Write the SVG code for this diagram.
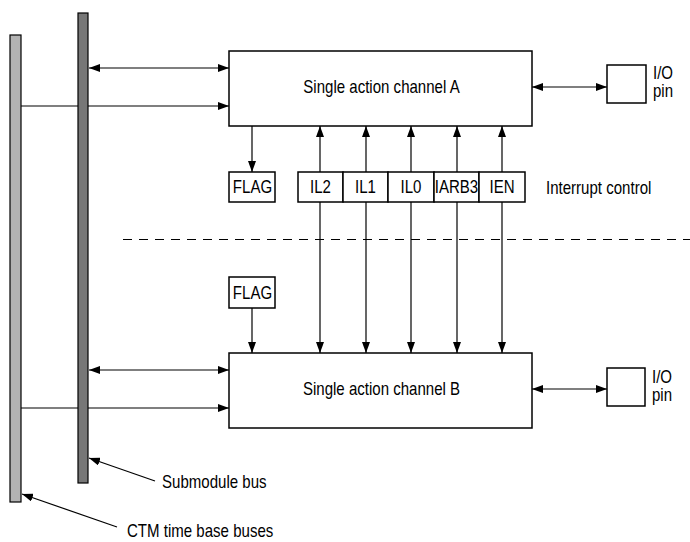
<svg xmlns="http://www.w3.org/2000/svg" width="690" height="542" viewBox="0 0 690 542">
<style>
.box{fill:#fff;stroke:#000;stroke-width:1.5}
.ln{stroke:#000;stroke-width:1.2;fill:none}
.t{font-family:"Liberation Sans","Arial",sans-serif;font-size:17.5px;fill:#000}
.m{text-anchor:middle}
</style>
<defs>
<marker id="ah" viewBox="0 0 11 8" refX="11" refY="4" markerWidth="11" markerHeight="8" markerUnits="userSpaceOnUse" orient="auto-start-reverse">
<path d="M0,0 L11,4 L0,8 Z" fill="#000"/>
</marker>
</defs>
<rect width="690" height="542" fill="#fff"/>
<g id="connectors">
<line class="ln" x1="21" y1="106" x2="229" y2="106" marker-end="url(#ah)"/>
<line class="ln" x1="21" y1="408" x2="229" y2="408" marker-end="url(#ah)"/>
<line class="ln" x1="89" y1="68" x2="229" y2="68" marker-start="url(#ah)" marker-end="url(#ah)"/>
<line class="ln" x1="89" y1="370" x2="229" y2="370" marker-start="url(#ah)" marker-end="url(#ah)"/>
<line class="ln" x1="532" y1="87" x2="607" y2="87" marker-start="url(#ah)" marker-end="url(#ah)"/>
<line class="ln" x1="532" y1="389" x2="607" y2="389" marker-start="url(#ah)" marker-end="url(#ah)"/>
<line class="ln" x1="252" y1="126" x2="252" y2="172" marker-end="url(#ah)"/>
<line class="ln" x1="252" y1="308" x2="252" y2="353" marker-end="url(#ah)"/>
<line class="ln" x1="320" y1="126" x2="320" y2="353" marker-start="url(#ah)" marker-end="url(#ah)"/>
<line class="ln" x1="366" y1="126" x2="366" y2="353" marker-start="url(#ah)" marker-end="url(#ah)"/>
<line class="ln" x1="411" y1="126" x2="411" y2="353" marker-start="url(#ah)" marker-end="url(#ah)"/>
<line class="ln" x1="457" y1="126" x2="457" y2="353" marker-start="url(#ah)" marker-end="url(#ah)"/>
<line class="ln" x1="502" y1="126" x2="502" y2="353" marker-start="url(#ah)" marker-end="url(#ah)"/>
<line class="ln" x1="155" y1="481" x2="89" y2="458" marker-end="url(#ah)"/>
<line class="ln" x1="117" y1="527" x2="22" y2="494" marker-end="url(#ah)"/>
<line x1="123" y1="239.5" x2="690" y2="239.5" stroke="#000" stroke-width="1" stroke-dasharray="9,7"/>
</g>
<g id="ctm-bus">
<rect x="10" y="35" width="11" height="467" fill="#b3b3b3" stroke="#000" stroke-width="1.2"/>
</g>
<g id="submodule-bus">
<rect x="78" y="13" width="10" height="470" fill="#777" stroke="#000" stroke-width="1.2"/>
</g>
<g id="channel-a">
<rect class="box" x="229" y="51" width="303" height="75"/>
<text class="t m" transform="translate(381.5,93) scale(0.86,1)">Single action channel A</text>
</g>
<g id="channel-b">
<rect class="box" x="229" y="353" width="303" height="75"/>
<text class="t m" transform="translate(381.5,395) scale(0.86,1)">Single action channel B</text>
</g>
<g id="io-a">
<rect class="box" x="607" y="65" width="39" height="38"/>
<text class="t" transform="translate(653,79) scale(0.86,1)">I/O</text>
<text class="t" transform="translate(653,97) scale(0.86,1)">pin</text>
</g>
<g id="io-b">
<rect class="box" x="607" y="368" width="38" height="38"/>
<text class="t" transform="translate(652,383) scale(0.86,1)">I/O</text>
<text class="t" transform="translate(652,400.5) scale(0.86,1)">pin</text>
</g>
<g id="flag-a">
<rect class="box" x="229" y="172" width="46" height="30"/>
<text class="t m" transform="translate(252.5,193) scale(0.86,1)">FLAG</text>
</g>
<g id="flag-b">
<rect class="box" x="229" y="277" width="46" height="31"/>
<text class="t m" transform="translate(252.5,299) scale(0.86,1)">FLAG</text>
</g>
<g id="il2">
<rect class="box" x="298" y="172" width="45" height="30"/>
<text class="t m" transform="translate(320.5,193) scale(0.86,1)">IL2</text>
</g>
<g id="il1">
<rect class="box" x="343" y="172" width="45" height="30"/>
<text class="t m" transform="translate(365.5,193) scale(0.86,1)">IL1</text>
</g>
<g id="il0">
<rect class="box" x="388" y="172" width="46" height="30"/>
<text class="t m" transform="translate(411,193) scale(0.86,1)">IL0</text>
</g>
<g id="iarb3">
<rect class="box" x="434" y="172" width="45" height="30"/>
<text class="t m" transform="translate(456.5,193) scale(0.86,1)">IARB3</text>
</g>
<g id="ien">
<rect class="box" x="479" y="172" width="46" height="30"/>
<text class="t m" transform="translate(502,193) scale(0.86,1)">IEN</text>
</g>
<g id="labels">
<text class="t" transform="translate(546,194) scale(0.86,1)">Interrupt control</text>
<text class="t" transform="translate(162,488) scale(0.86,1)">Submodule bus</text>
<text class="t" transform="translate(127,537) scale(0.86,1)">CTM time base buses</text>
</g>
</svg>
